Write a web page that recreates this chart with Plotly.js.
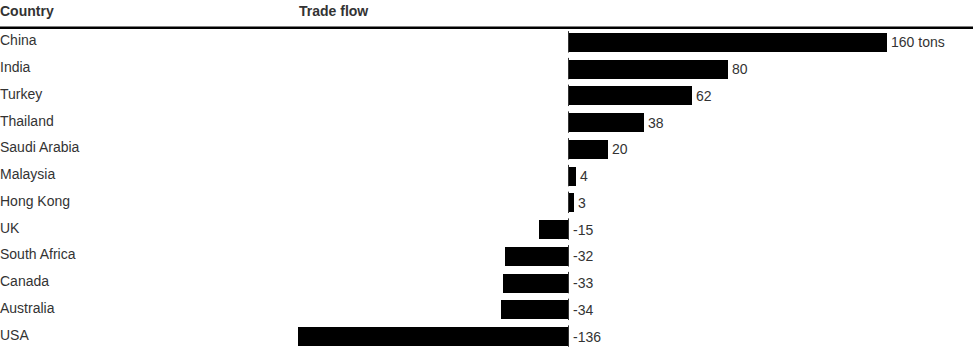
<!DOCTYPE html>
<html>
<head>
<meta charset="utf-8">
<script src="https://cdn.plot.ly/plotly-3.0.1.min.js"></script>
<style>
html,body{margin:0;padding:0;background:#fff;}
#chart{width:973px;height:363px;}
</style>
</head>
<body>
<div id="chart"></div>
<script>
const countries = ["China","India","Turkey","Thailand","Saudi Arabia","Malaysia","Hong Kong","UK","South Africa","Canada","Australia","USA"];
const tradeFlow = [160,80,62,38,20,4,3,-15,-32,-33,-34,-136];
const valueLabels = ["160 tons","80","62","38","20","4","3","-15","-32","-33","-34","-136"];
const headers = ["Country","Trade flow"];

const FONT = "Liberation Sans, Arial, Helvetica, sans-serif";
const TXT = "#333333";

const trace = {
  type: "bar",
  orientation: "h",
  y: countries.map((c,i)=>i),
  x: tradeFlow,
  width: 0.71,
  marker: {color: "#000000", line: {width: 0}},
  hoverinfo: "none"
};

const annotations = [];
countries.forEach((c,i)=>{
  annotations.push({
    xref: "paper", yref: "y", x: 0, y: i, xanchor: "left", yanchor: "middle",
    text: c, showarrow: false, xshift: -2, yshift: 2, font: {family: FONT, size: 14, color: TXT}
  });
  const v = tradeFlow[i];
  annotations.push({
    xref: "x", yref: "y", x: v > 0 ? v : 0, y: i, xanchor: "left", yanchor: "middle",
    text: valueLabels[i], showarrow: false, xshift: 2, yshift: 0,
    font: {family: FONT, size: 14, color: TXT}
  });
});
// headers
annotations.push({xref:"paper", yref:"paper", x:0, y:1, xshift: -2, yshift: 28, xanchor:"left", yanchor:"top",
  text:"<b>"+headers[0]+"</b>", showarrow:false, font:{family:FONT,size:14,color:TXT}});
annotations.push({xref:"paper", yref:"paper", x:299/973, y:1, xshift: -2, yshift: 28, xanchor:"left", yanchor:"top",
  text:"<b>"+headers[1]+"</b>", showarrow:false, font:{family:FONT,size:14,color:TXT}});

const shapes = [];
// header rule
shapes.push({type:"line", xref:"paper", yref:"paper", x0:0, x1:1, y0:1.004, y1:1.004,
  line:{color:"#000", width:2.5}});
// zero-line segments per row
countries.forEach((c,i)=>{
  shapes.push({type:"line", xref:"x", yref:"y", x0:0, x1:0, y0:i-0.42, y1:i+0.38,
    line:{color:"#333", width:1}, layer:"above"});
});

const layout = {
  width: 973, height: 363,
  margin: {l:0, r:0, t:28.6, b:12.6, pad:0},
  paper_bgcolor: "#fff", plot_bgcolor: "#fff",
  showlegend: false,
  bargap: 0,
  xaxis: {range:[-285.68, 203.27], showgrid:false, zeroline:false, showticklabels:false, ticks:"", fixedrange:true},
  yaxis: {range:[11.5,-0.5], showgrid:false, zeroline:false, showticklabels:false, ticks:"", fixedrange:true},
  annotations: annotations,
  shapes: shapes,
  font: {family: FONT, color: TXT}
};

Plotly.newPlot("chart", [trace], layout, {displayModeBar:false, staticPlot:true});
</script>
</body>
</html>
